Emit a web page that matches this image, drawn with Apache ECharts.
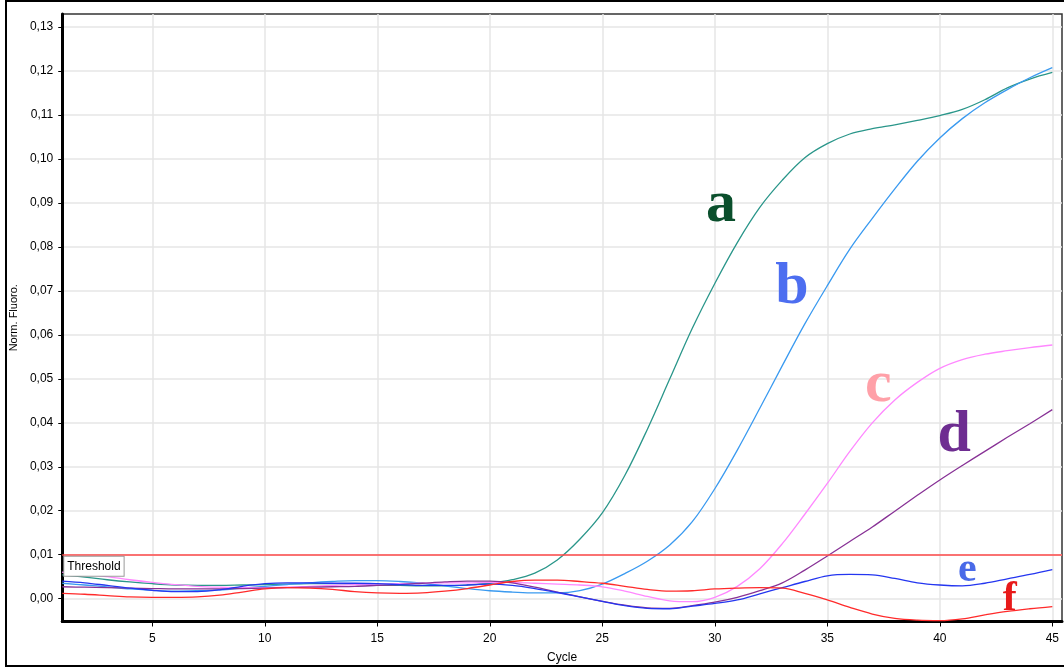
<!DOCTYPE html>
<html>
<head>
<meta charset="utf-8">
<script src="https://cdn.jsdelivr.net/npm/echarts@6/dist/echarts.min.js"></script>
<style>
  html, body { margin: 0; padding: 0; background: #fff; }
  #frame { position: absolute; left: 5px; top: 0px; width: 1080px; height: 663px; border: 2px solid #000; box-sizing: content-box; }
  #chart { position: absolute; left: 0; top: 0; width: 1064px; height: 669px; }
</style>
</head>
<body>
<div id="frame"></div>
<div id="chart"></div>
<script>
// ---- data ----
const cycles = [1,2,3,4,5,6,7,8,9,10,11,12,13,14,15,16,17,18,19,20,21,22,23,24,25,26,27,28,29,30,31,32,33,34,35,36,37,38,39,40,41,42,43,44,45];
const xTicks = [5,10,15,20,25,30,35,40,45];
const yTicks = [0,0.01,0.02,0.03,0.04,0.05,0.06,0.07,0.08,0.09,0.10,0.11,0.12,0.13];
const threshold = 0.01;
const seriesNames = ['a','b','c','d','e','f'];

const seriesA = [0.0054,0.0049,0.0043,0.0038,0.0034,0.0031,0.0030,0.0030,0.0031,0.0032,0.0033,0.0034,0.0034,0.0033,0.0031,0.0030,0.0029,0.0029,0.0031,0.0035,0.0043,0.0058,0.0088,0.0135,0.0195,0.0280,0.0385,0.0500,0.0615,0.0717,0.0810,0.0890,0.0952,0.1003,0.1035,0.1057,0.1069,0.1078,0.1088,0.1099,0.1113,0.1135,0.1162,0.1182,0.1197];
const seriesB = [0.0035,0.0031,0.0027,0.0022,0.0019,0.0017,0.0018,0.0020,0.0024,0.0028,0.0032,0.0036,0.0039,0.0041,0.0041,0.0039,0.0035,0.0029,0.0023,0.0018,0.0015,0.0013,0.0013,0.0018,0.0033,0.0057,0.0085,0.0122,0.0175,0.0250,0.0338,0.0433,0.0530,0.0625,0.0712,0.0795,0.0865,0.0932,0.0995,0.1048,0.1092,0.1128,0.1158,0.1185,0.1208];
const seriesC = [0.0060,0.0056,0.0050,0.0043,0.0037,0.0032,0.0028,0.0026,0.0025,0.0025,0.0026,0.0028,0.0030,0.0032,0.0033,0.0034,0.0035,0.0036,0.0036,0.0037,0.0037,0.0035,0.0033,0.0031,0.0027,0.0017,0.0005,-0.0005,-0.0007,0.0003,0.0028,0.0068,0.0125,0.0192,0.0262,0.0335,0.0400,0.0452,0.0492,0.0524,0.0544,0.0556,0.0564,0.0571,0.0577];
const seriesD = [0.0027,0.0026,0.0025,0.0024,0.0023,0.0022,0.0022,0.0022,0.0023,0.0024,0.0025,0.0026,0.0027,0.0028,0.0030,0.0032,0.0035,0.0038,0.0040,0.0040,0.0036,0.0026,0.0015,0.0004,-0.0006,-0.0015,-0.0021,-0.0022,-0.0016,-0.0008,0.0003,0.0018,0.0036,0.0065,0.0097,0.0130,0.0163,0.0199,0.0235,0.0270,0.0303,0.0335,0.0367,0.0398,0.0430];
const seriesE = [0.0040,0.0036,0.0030,0.0024,0.0019,0.0016,0.0016,0.0020,0.0028,0.0034,0.0036,0.0036,0.0035,0.0035,0.0034,0.0032,0.0030,0.0030,0.0031,0.0033,0.0030,0.0023,0.0014,0.0004,-0.0006,-0.0016,-0.0022,-0.0023,-0.0017,-0.0011,-0.0003,0.0011,0.0025,0.0039,0.0052,0.0055,0.0054,0.0046,0.0036,0.0031,0.0029,0.0035,0.0045,0.0055,0.0066];
const seriesF = [0.0012,0.0010,0.0007,0.0004,0.0003,0.0003,0.0004,0.0008,0.0015,0.0022,0.0025,0.0024,0.0021,0.0016,0.0013,0.0012,0.0013,0.0017,0.0023,0.0031,0.0039,0.0042,0.0042,0.0039,0.0035,0.0028,0.0021,0.0017,0.0018,0.0022,0.0024,0.0025,0.0024,0.0012,-0.0003,-0.0020,-0.0035,-0.0045,-0.0049,-0.0050,-0.0046,-0.0037,-0.0029,-0.0023,-0.0018];

// ---- styles ----
const lineColors = ['#2a968a', '#3a9af0', '#ff88ff', '#883296', '#2436f0', '#ff2a2a'];
const letterColors = ['#0a4f2c', '#4d6ef0', '#ffa0a8', '#6e2d91', '#4a6ae8', '#e81a1a'];
const letterSizes = [60, 60, 60, 60, 42, 42];
const letterAnchors = [[30.28, 0.0895], [33.43, 0.0708], [37.27, 0.0486], [40.64, 0.0370], [41.22, 0.0064], [43.11, -0.0001]];

const allValues = [seriesA, seriesB, seriesC, seriesD, seriesE, seriesF];

const series = allValues.map((vals, i) => ({
  name: seriesNames[i],
  type: 'line',
  data: cycles.map((c, k) => [c, vals[k]]),
  showSymbol: false,
  smooth: 0.35,
  lineStyle: { color: lineColors[i], width: 1.3 },
  itemStyle: { color: lineColors[i] },
  z: 3,
  markPoint: {
    silent: true,
    symbol: 'circle',
    symbolSize: 1,
    itemStyle: { color: 'rgba(0,0,0,0)' },
    label: {
      show: true,
      position: 'inside',
      formatter: seriesNames[i],
      fontFamily: 'Liberation Serif',
      fontWeight: 'bold',
      fontSize: letterSizes[i],
      color: letterColors[i]
    },
    data: [{ coord: letterAnchors[i] }]
  }
}));

series[5].markLine = {
  silent: true,
  symbol: ['none', 'none'],
  lineStyle: { color: '#ff4a4a', width: 1.5, type: 'solid' },
  label: {
    show: true,
    position: 'insideStartBottom',
    formatter: 'Threshold',
    color: '#000',
    fontFamily: 'Liberation Sans',
    fontSize: 12,
    backgroundColor: '#fff',
    borderColor: '#9a9a9a',
    borderWidth: 1,
    padding: [4, 3, 3, 3],
    distance: [2, 2]
  },
  data: [{ yAxis: threshold }]
};

const fmt = v => v.toFixed(2).replace('.', ',');

const option = {
  animation: false,
  backgroundColor: 'transparent',
  grid: {
    left: 60, right: 2, top: 14, bottom: 47.5,
    show: true, borderColor: '#333', borderWidth: 1.5, backgroundColor: 'transparent'
  },
  xAxis: {
    type: 'value',
    min: 1, max: 45.43,
    name: 'Cycle',
    nameLocation: 'middle',
    nameGap: 30,
    nameTextStyle: { fontFamily: 'Liberation Sans', fontSize: 12, color: '#000' },
    axisLine: { show: true, onZero: false, lineStyle: { color: '#000', width: 3 } },
    axisTick: { show: true, customValues: xTicks, length: 5, lineStyle: { color: '#000', width: 1 } },
    axisLabel: { customValues: xTicks, margin: 11, fontFamily: 'Liberation Sans', fontSize: 12, color: '#000' },
    splitLine: { show: true, lineStyle: { color: '#e6e6e6', width: 1.5 } }
  },
  yAxis: {
    type: 'value',
    min: -0.0052, max: 0.133,
    name: 'Norm. Fluoro.',
    nameLocation: 'middle',
    nameGap: 34,
    nameTextStyle: { fontFamily: 'Liberation Sans', fontSize: 11, color: '#000' },
    axisLine: { show: true, onZero: false, lineStyle: { color: '#000', width: 3 } },
    axisTick: { show: true, customValues: yTicks, length: 4, lineStyle: { color: '#000', width: 1 } },
    axisLabel: { customValues: yTicks, formatter: fmt, margin: 9, fontFamily: 'Liberation Sans', fontSize: 12, color: '#000' },
    splitLine: { show: true, lineStyle: { color: '#e6e6e6', width: 1.5 } }
  },
  series: series
};

const chart = echarts.init(document.getElementById('chart'), null, { renderer: 'canvas' });
chart.setOption(option);
</script>
</body>
</html>
